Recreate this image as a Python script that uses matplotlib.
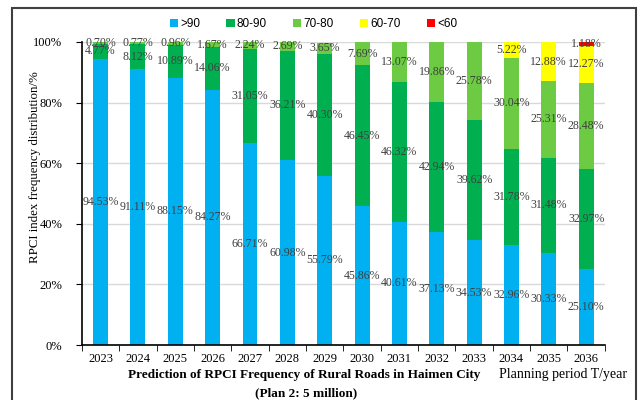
import matplotlib.pyplot as plt
import numpy as np
from matplotlib.patches import Rectangle

years = ["2023", "2024", "2025", "2026", "2027", "2028", "2029",
         "2030", "2031", "2032", "2033", "2034", "2035", "2036"]
grades = [">90", "80-90", "70-80", "60-70", "<60"]
gt90 = [94.53, 91.11, 88.15, 84.27, 66.71, 60.98, 55.79, 45.86, 40.61, 37.13, 34.53, 32.96, 30.33, 25.10]
g80_90 = [4.77, 8.12, 10.89, 14.06, 31.05, 36.21, 40.30, 46.45, 46.32, 42.94, 39.62, 31.78, 31.48, 32.97]
g70_80 = [0.70, 0.77, 0.96, 1.67, 2.24, 2.69, 3.65, 7.69, 13.07, 19.86, 25.78, 30.04, 25.31, 28.48]
g60_70 = [0, 0, 0, 0, 0, 0, 0, 0, 0, 0, 0, 5.22, 12.88, 12.27]
lt60 = [0, 0, 0, 0, 0, 0, 0, 0, 0, 0, 0, 0, 0, 1.18]

colors = ["#00B0F0", "#00B050", "#6CCB42", "#FFFF00", "#FF0000"]
series = [gt90, g80_90, g70_80, g60_70, lt60]

serif = "Liberation Serif"
fig = plt.figure(figsize=(6.4, 4), dpi=100)
ax = fig.add_axes([0.128, 0.1375, 0.817, 0.7575])

x = np.arange(len(years))
bottom = np.zeros(len(years))
for name, vals, c in zip(grades, series, colors):
    vals = np.array(vals)
    ax.bar(x, vals, 0.4, bottom=bottom, color=c, label=name, zorder=2)
    for xi, b, v in zip(x, bottom, vals):
        if v > 0:
            ax.text(xi, b + v / 2, f"{v:.2f}%", ha="center", va="center",
                    fontsize=8.6, family=serif, color="#404040", zorder=3)
    bottom += vals

ax.set_xlim(-0.5, len(years) - 0.5)
ax.set_ylim(0, 100)
ax.set_yticks(np.arange(0, 101, 20))
ax.set_yticklabels([f"{v}%" for v in range(0, 101, 20)], family=serif, fontsize=9)
ax.set_xticks(x)
ax.set_xticklabels(years, family=serif, fontsize=9)
ax.set_xticks(np.arange(-0.5, len(years)), minor=True)
ax.tick_params(axis="x", which="major", length=0, pad=6)
ax.tick_params(axis="x", which="minor", length=4, direction="out")
ax.tick_params(axis="y", length=4, direction="out", pad=10)
ax.grid(axis="y", color="#d9d9d9", linewidth=1, zorder=0)
for s in ["top", "right"]:
    ax.spines[s].set_visible(False)
ax.spines["left"].set_linewidth(1.2)
ax.spines["bottom"].set_linewidth(1.2)

ax.set_ylabel("RPCI index frequency distribution/%", family=serif, fontsize=9.3)
ax.yaxis.set_label_coords(-0.078, 0.587)

fig.text(0.475, 0.063, "Prediction of RPCI Frequency of Rural Roads in Haimen City",
         ha="center", va="center", family=serif, fontsize=9.5, weight="bold")
fig.text(0.478, 0.018, "(Plan 2: 5 million)",
         ha="center", va="center", family=serif, fontsize=9.5, weight="bold")
fig.text(0.78, 0.063, "Planning period T/year", ha="left", va="center",
         family=serif, fontsize=10)

leg = fig.legend(loc="center", bbox_to_anchor=(0.49, 0.94), ncol=5, frameon=False,
                 prop={"family": "Liberation Sans", "size": 8.5},
                 handlelength=0.7, handleheight=0.7, handletextpad=0.2, columnspacing=2.2)

fig.patches.append(Rectangle((0.019, -0.05), 0.974, 1.03, transform=fig.transFigure,
                             fill=False, edgecolor="#404040", linewidth=1.5))

fig.savefig("out.png", dpi=100)
